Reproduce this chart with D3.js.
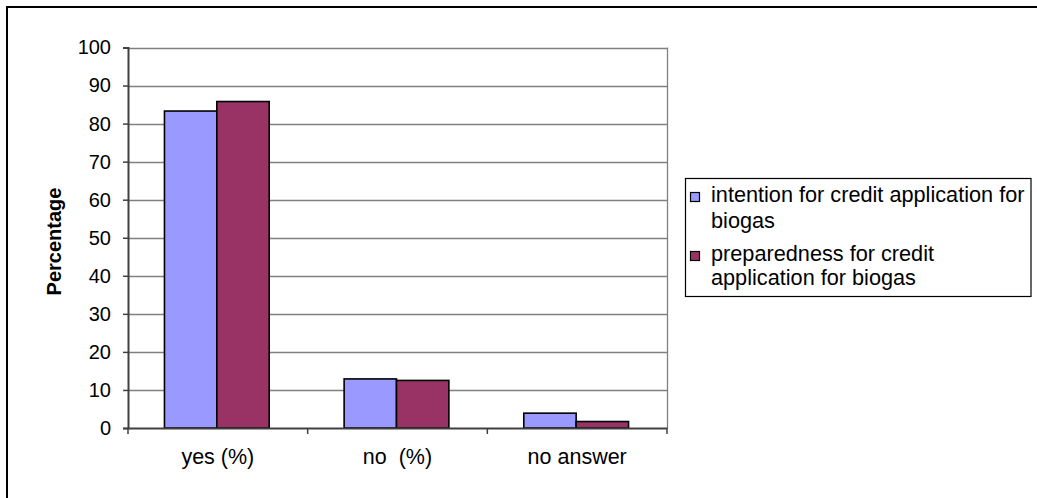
<!DOCTYPE html>
<html>
<head>
<meta charset="utf-8">
<script src="https://cdn.jsdelivr.net/npm/d3@7"></script>
<style>
  html, body { margin: 0; padding: 0; background: #fff; }
  svg text { font-family: "Liberation Sans", Arial, sans-serif; fill: #000; }
</style>
</head>
<body>
<svg id="chart" width="1037" height="498"></svg>
<script>
const categories = ["yes (%)", "no  (%)", "no answer"];
const seriesNames = ["intention for credit application for biogas", "preparedness for credit application for biogas"];
const legendLines = [["intention for credit application for", "biogas"], ["preparedness for credit", "application for biogas"]];
const intentionValues = [83.3, 12.9, 3.9];
const preparednessValues = [85.8, 12.5, 1.7];
const yTicks = [0, 10, 20, 30, 40, 50, 60, 70, 80, 90, 100];
const seriesColors = ["#9999FF", "#993366"];

const svg = d3.select("#chart");
const W = 1037, H = 498;

// outer frame (right/bottom edges fall outside the picture)
svg.append("rect").attr("x", 7).attr("y", 7).attr("width", W + 10).attr("height", H + 10)
  .attr("fill", "none").attr("stroke", "#000").attr("stroke-width", 2);

const plot = { left: 128, right: 667, top: 47.5, bottom: 428 };

const y = d3.scaleLinear().domain([0, 100]).range([plot.bottom, plot.top]);
const x0 = d3.scaleBand().domain(categories).range([plot.left, plot.right]).paddingInner(0.417).paddingOuter(0.2085);
const x1 = d3.scaleBand().domain(seriesNames).range([0, x0.bandwidth()]).padding(0);

// gridlines
svg.append("g").selectAll("line").data(yTicks.filter(d => d > 0)).join("line")
  .attr("x1", plot.left).attr("x2", plot.right)
  .attr("y1", d => Math.round(y(d)) + 0.5).attr("y2", d => Math.round(y(d)) + 0.5)
  .attr("stroke", "#808080").attr("stroke-width", 1.3);

// plot area right border
svg.append("line").attr("x1", plot.right + 0.5).attr("x2", plot.right + 0.5)
  .attr("y1", plot.top).attr("y2", plot.bottom).attr("stroke", "#808080").attr("stroke-width", 1.3);

// bars
const data = categories.map((c, i) => ({ cat: c, vals: [intentionValues[i], preparednessValues[i]] }));
const groups = svg.append("g").selectAll("g").data(data).join("g")
  .attr("transform", d => `translate(${x0(d.cat) - 1},0)`);
groups.selectAll("rect").data(d => d.vals.map((v, j) => ({ v, s: seriesNames[j], j }))).join("rect")
  .attr("x", d => x1(d.s))
  .attr("y", d => y(d.v))
  .attr("width", x1.bandwidth())
  .attr("height", d => y(0) - y(d.v))
  .attr("fill", d => seriesColors[d.j])
  .attr("stroke", "#000").attr("stroke-width", 1.6);

// y axis
const yAxis = d3.axisLeft(y).tickValues(yTicks).tickSize(5).tickPadding(12);
const gy = svg.append("g").attr("transform", `translate(${plot.left},0)`).call(yAxis);
gy.select(".domain").attr("stroke", "#404040").attr("stroke-width", 2);
gy.selectAll(".tick line").attr("stroke", "#404040").attr("stroke-width", 1.5);
gy.selectAll(".tick text").attr("font-size", 20).attr("font-family", "Liberation Sans, Arial, sans-serif").attr("fill", "#000");

// x axis
const xAxis = d3.axisBottom(x0).tickSize(0).tickPadding(21);
const gx = svg.append("g").attr("transform", `translate(0,${plot.bottom})`).call(xAxis);
gx.select(".domain").attr("stroke", "#404040").attr("stroke-width", 2);
gx.selectAll(".tick text").attr("font-size", 21.5).attr("font-family", "Liberation Sans, Arial, sans-serif").attr("fill", "#000")
  .style("white-space", "pre").attr("xml:space", "preserve");
// category boundary ticks
svg.append("g").selectAll("line").data([plot.left].concat(categories.slice(1).map(c => x0(c) - (x0.step() - x0.bandwidth()) / 2), [plot.right])).join("line")
  .attr("x1", d => d).attr("x2", d => d)
  .attr("y1", plot.bottom).attr("y2", plot.bottom + 6)
  .attr("stroke", "#404040").attr("stroke-width", 1.5);

// y axis title
svg.append("text").attr("transform", "translate(61,241.5) rotate(-90)")
  .attr("text-anchor", "middle").attr("font-size", 20).attr("font-weight", "bold")
  .text("Percentage");

// legend
const lg = svg.append("g");
lg.append("rect").attr("x", 685.5).attr("y", 178.5).attr("width", 345.5).attr("height", 118)
  .attr("fill", "#fff").attr("stroke", "#000").attr("stroke-width", 1.2);
const baseY = [[202, 228], [261, 285]];
legendLines.forEach((lines, j) => {
  lg.append("rect").attr("x", 690.5).attr("y", baseY[j][0] - 9.5).attr("width", 9).attr("height", 9)
    .attr("fill", seriesColors[j]).attr("stroke", "#000").attr("stroke-width", 1.2);
  lines.forEach((t, k) => {
    lg.append("text").attr("x", 711).attr("y", baseY[j][k])
      .attr("font-size", 21.7).text(t);
  });
});
</script>
</body>
</html>
